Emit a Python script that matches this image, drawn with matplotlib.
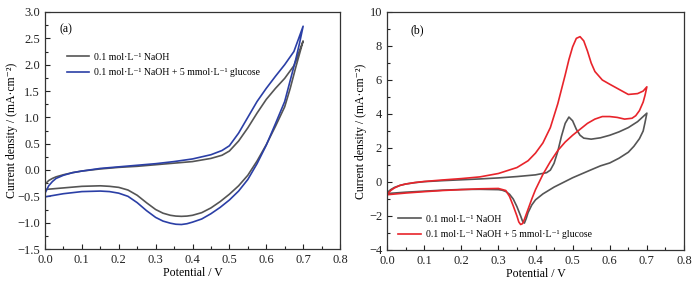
import matplotlib
matplotlib.use("Agg")
import matplotlib.pyplot as plt
from matplotlib.ticker import MultipleLocator

plt.rcParams['font.family'] = ['Liberation Serif', 'DejaVu Serif']

# Panel (a) data: potential (V), current density (mA/cm2), forward then reverse scan
a_naoh_x = [0.0, 0.01, 0.02, 0.03, 0.05, 0.075, 0.1, 0.15, 0.2, 0.25, 0.3, 0.35, 0.4, 0.45, 0.48, 0.5, 0.525, 0.55, 0.575, 0.6, 0.625, 0.65, 0.675, 0.7,
            0.69, 0.68, 0.665, 0.65, 0.625, 0.6, 0.575, 0.55, 0.525, 0.5, 0.475, 0.45, 0.425, 0.4, 0.385, 0.37, 0.355, 0.34, 0.32, 0.3, 0.275, 0.25, 0.225, 0.2, 0.175, 0.15, 0.1, 0.05, 0.0]
a_naoh_y = [-0.27, -0.2, -0.16, -0.13, -0.09, -0.05, -0.02, 0.02, 0.05, 0.07, 0.1, 0.13, 0.16, 0.22, 0.28, 0.36, 0.55, 0.8, 1.08, 1.34, 1.55, 1.74, 1.98, 2.45,
            2.2, 1.95, 1.55, 1.2, 0.83, 0.48, 0.17, -0.1, -0.3, -0.46, -0.6, -0.72, -0.81, -0.86, -0.875, -0.88, -0.875, -0.86, -0.82, -0.75, -0.62, -0.48, -0.38, -0.33, -0.31, -0.3, -0.31, -0.34, -0.37]

a_glu_x = [0.0, 0.01, 0.02, 0.03, 0.05, 0.075, 0.1, 0.15, 0.2, 0.25, 0.3, 0.35, 0.4, 0.45, 0.48, 0.5, 0.525, 0.55, 0.575, 0.6, 0.625, 0.65, 0.675, 0.7,
           0.69, 0.68, 0.665, 0.65, 0.625, 0.6, 0.575, 0.55, 0.525, 0.5, 0.475, 0.45, 0.425, 0.4, 0.385, 0.37, 0.355, 0.34, 0.32, 0.3, 0.275, 0.25, 0.225, 0.2, 0.175, 0.15, 0.1, 0.05, 0.0]
a_glu_y = [-0.44, -0.3, -0.22, -0.16, -0.1, -0.05, -0.02, 0.03, 0.06, 0.09, 0.12, 0.16, 0.21, 0.29, 0.37, 0.46, 0.7, 1.0, 1.3, 1.55, 1.78, 2.0, 2.25, 2.73,
           2.4, 2.1, 1.7, 1.3, 0.88, 0.47, 0.12, -0.18, -0.4, -0.57, -0.71, -0.83, -0.93, -0.99, -1.02, -1.035, -1.03, -1.01, -0.97, -0.9, -0.77, -0.62, -0.5, -0.44, -0.41, -0.4, -0.41, -0.45, -0.51]

# Panel (b) data
b_naoh_x = [0.0, 0.01, 0.02, 0.035, 0.05, 0.075, 0.1, 0.15, 0.2, 0.25, 0.3, 0.35, 0.4, 0.43, 0.44, 0.45, 0.46, 0.47, 0.48, 0.49, 0.5, 0.51, 0.52, 0.53, 0.55, 0.575, 0.6, 0.625, 0.65, 0.675, 0.7,
            0.695, 0.69, 0.68, 0.665, 0.65, 0.625, 0.6, 0.575, 0.55, 0.5, 0.45, 0.42, 0.4, 0.39, 0.38, 0.375, 0.37, 0.365, 0.36, 0.35, 0.34, 0.33, 0.32, 0.31, 0.3, 0.25, 0.2, 0.15, 0.1, 0.05, 0.0]
b_naoh_y = [-0.62, -0.45, -0.32, -0.2, -0.12, -0.04, 0.02, 0.08, 0.13, 0.18, 0.24, 0.32, 0.42, 0.55, 0.7, 1.1, 1.8, 2.7, 3.45, 3.82, 3.6, 3.1, 2.75, 2.58, 2.52, 2.6, 2.75, 2.95, 3.2, 3.55, 4.05,
            3.5, 3.0, 2.55, 2.1, 1.75, 1.4, 1.12, 0.95, 0.72, 0.25, -0.3, -0.7, -1.05, -1.35, -1.8, -2.15, -2.42, -2.3, -2.0, -1.45, -1.0, -0.72, -0.56, -0.48, -0.45, -0.43, -0.44, -0.48, -0.54, -0.6, -0.68]

b_glu_x = [0.0, 0.01, 0.02, 0.035, 0.05, 0.075, 0.1, 0.15, 0.2, 0.25, 0.3, 0.35, 0.38, 0.4, 0.42, 0.44, 0.46, 0.48, 0.49, 0.5, 0.51, 0.52, 0.53, 0.54, 0.55, 0.56, 0.58, 0.6, 0.625, 0.65, 0.675, 0.69, 0.7,
           0.695, 0.69, 0.68, 0.67, 0.66, 0.64, 0.62, 0.6, 0.58, 0.56, 0.54, 0.52, 0.5, 0.48, 0.46, 0.44, 0.42, 0.4, 0.39, 0.38, 0.37, 0.365, 0.36, 0.355, 0.35, 0.34, 0.33, 0.32, 0.3, 0.25, 0.2, 0.15, 0.1, 0.05, 0.0]
b_glu_y = [-0.75, -0.5, -0.35, -0.2, -0.12, -0.03, 0.03, 0.12, 0.2, 0.3, 0.5, 0.85, 1.25, 1.7, 2.3, 3.2, 4.6, 6.3, 7.2, 7.95, 8.45, 8.55, 8.3, 7.7, 7.0, 6.5, 6.0, 5.75, 5.45, 5.15, 5.2, 5.35, 5.6,
           5.1, 4.7, 4.2, 3.9, 3.75, 3.7, 3.8, 3.85, 3.85, 3.7, 3.45, 3.1, 2.75, 2.35, 1.85, 1.2, 0.45, -0.45, -1.0, -1.6, -2.2, -2.45, -2.5, -2.35, -2.0, -1.4, -0.85, -0.5, -0.38, -0.4, -0.45, -0.5, -0.57, -0.65, -0.75]

label1 = '0.1 mol\u00b7L\u207b\u00b9 NaOH'
label2 = '0.1 mol\u00b7L\u207b\u00b9 NaOH + 5 mmol\u00b7L\u207b\u00b9 glucose'
ylabel = 'Current density / (mA\u00b7cm\u207b\u00b2)'

gray = '#555555'
blue = '#2b3fa6'
red = '#e8242b'

fig = plt.figure(figsize=(6.99, 2.87), dpi=100)
axa = fig.add_axes([45/699, 1-249/287, 295/699, 237/287])
axb = fig.add_axes([387/699, 1-250/287, 297/699, 238/287])

axa.plot(a_naoh_x, a_naoh_y, color=gray, lw=1.2, label=label1)
axa.plot(a_glu_x, a_glu_y, color=blue, lw=1.2, label=label2)
axb.plot(b_naoh_x, b_naoh_y, color=gray, lw=1.2, label=label1)
axb.plot(b_glu_x, b_glu_y, color=red, lw=1.2, label=label2)

axa.set_xlim(0, 0.8)
axa.set_ylim(-1.5, 3.0)
axa.xaxis.set_major_locator(MultipleLocator(0.1))
axa.xaxis.set_minor_locator(MultipleLocator(0.05))
axa.yaxis.set_major_locator(MultipleLocator(0.5))
axa.yaxis.set_minor_locator(MultipleLocator(0.25))
axa.set_yticklabels([f'{v:.1f}'.replace('-', '\u2212') for v in axa.get_yticks()])

axb.set_xlim(0, 0.8)
axb.set_ylim(-4, 10)
axb.xaxis.set_major_locator(MultipleLocator(0.1))
axb.xaxis.set_minor_locator(MultipleLocator(0.05))
axb.yaxis.set_major_locator(MultipleLocator(2))
axb.yaxis.set_minor_locator(MultipleLocator(1))

for ax, tag, tx, lx in [(axa, '(a)', 0.05, -0.092), (axb, '(b)', 0.08, -0.067)]:
    ax.set_xticklabels([f'{v:.1f}' for v in ax.get_xticks()])
    ax.tick_params(which='both', direction='in', top=False, right=False, labelsize=9, colors='#222222')
    ax.tick_params(which='major', length=3.5, width=0.8)
    ax.tick_params(which='minor', length=2, width=0.8)
    for s in ax.spines.values():
        s.set_linewidth(0.9)
        s.set_color('#333333')
    ax.set_xlabel('Potential / V', fontsize=8.5, labelpad=1)
    ax.set_ylabel(ylabel, fontsize=8.5)
    ax.yaxis.set_label_coords(lx, 0.5)
    ax.text(tx, 0.925, tag, transform=ax.transAxes, fontsize=8.5, ha='left', va='center')

axa.legend(loc='upper left', bbox_to_anchor=(0.06, 0.845), frameon=False, fontsize=7,
           handlelength=2.3, handletextpad=0.5, labelspacing=0.65, borderaxespad=0)
axb.legend(loc='lower left', bbox_to_anchor=(0.025, 0.03), frameon=False, fontsize=7,
           handlelength=2.3, handletextpad=0.5, labelspacing=0.65, borderaxespad=0)

fig.savefig('out.png', dpi=100)
